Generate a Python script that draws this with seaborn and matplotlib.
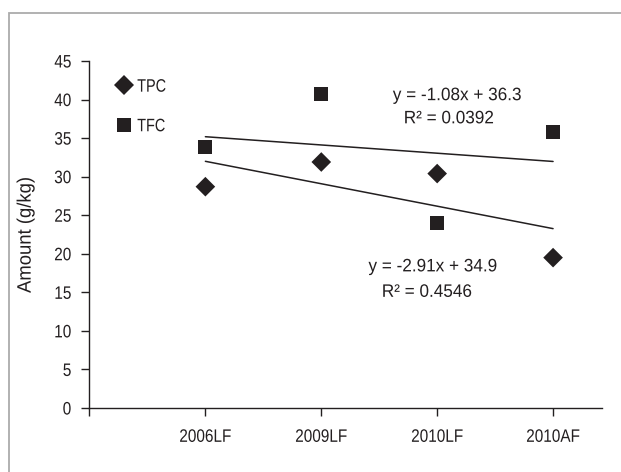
import numpy as np
import pandas as pd
import matplotlib
matplotlib.use("Agg")
import matplotlib.pyplot as plt
from matplotlib.patches import Rectangle
from matplotlib.patheffects import AbstractPathEffect
from matplotlib.transforms import Affine2D
import seaborn as sns

# Sample groups and measured contents (g/kg)
categories = ["2006LF", "2009LF", "2010LF", "2010AF"]
tpc = [28.7, 31.9, 30.4, 19.5]
tfc = [33.8, 40.7, 24.0, 35.8]
series_names = ["TPC", "TFC"]
yticks = [0, 5, 10, 15, 20, 25, 30, 35, 40, 45]

# Trendline equations shown on the chart
tfc_eq = ["y = -1.08x + 36.3", "R² = 0.0392"]
tpc_eq = ["y = -2.91x + 34.9", "R² = 0.4546"]


class Narrow(AbstractPathEffect):
    """Draw text glyphs horizontally condensed, keeping the aligned edge fixed."""

    def __init__(self, sx=0.85, frac=0.5):
        super().__init__()
        self.sx = sx
        self.frac = frac

    def draw_path(self, renderer, gc, tpath, affine, rgbFace=None):
        ext = tpath.get_extents()
        anchor = ext.x0 + self.frac * (ext.x1 - ext.x0)
        squeeze = Affine2D().scale(self.sx, 1.0).translate(anchor * (1 - self.sx), 0)
        renderer.draw_path(gc, tpath, squeeze + affine, rgbFace)


FRAC = {"left": 0.0, "center": 0.5, "right": 1.0}


def narrow(text, sx):
    text.set_path_effects([Narrow(sx, FRAC.get(text.get_ha(), 0.5))])


sns.set_theme(style="ticks")
plt.rcParams["font.family"] = ["Liberation Sans", "DejaVu Sans"]
plt.rcParams["axes.unicode_minus"] = False

ink = "#231f20"
pos = np.arange(1, len(categories) + 1)
df = pd.DataFrame({"pos": np.concatenate([pos, pos]),
                   "value": tpc + tfc,
                   "series": [series_names[0]] * 4 + [series_names[1]] * 4})

fig = plt.figure(figsize=(6.21, 4.72), dpi=100)
ax = fig.add_axes([0.1441, 0.1356, 0.969 - 0.1441, 0.8708 - 0.1356])

# Outer grey frame
fig.patches.append(Rectangle((9.3 / 621, -0.2), 2.0, 1.2 - 12.5 / 472,
                             transform=fig.transFigure, fill=False,
                             edgecolor="#ababab", linewidth=1.3))

# Linear trendlines
for vals in (tfc, tpc):
    sns.regplot(x=pos, y=vals, scatter=False, ci=None, ax=ax,
                line_kws=dict(color=ink, lw=1.1))

sns.scatterplot(data=df, x="pos", y="value", style="series",
                markers={"TPC": "D", "TFC": "s"},
                s=100, color=ink, edgecolor="none",
                linewidth=0, ax=ax, legend=True)

ax.set_xlim(0, 4.42)
ax.set_ylim(0, 45)
ax.set_yticks(yticks)
ax.set_xticks([0] + list(pos))
ax.set_xticklabels([""] + categories)
ax.set_xlabel("")
ax.set_ylabel("Amount (g/kg)", fontsize=14, color=ink, labelpad=12)
ax.tick_params(axis="both", direction="out", length=6, width=1, color=ink,
               labelsize=13, labelcolor=ink, pad=7)
ax.tick_params(axis="x", pad=9)
sns.despine(ax=ax)
for sp in ("left", "bottom"):
    ax.spines[sp].set_color(ink)
    ax.spines[sp].set_linewidth(1)

for t in ax.get_xticklabels() + ax.get_yticklabels():
    narrow(t, 0.85)
narrow(ax.yaxis.label, 0.95)

leg = ax.legend(frameon=False, loc="upper left", bbox_to_anchor=(0.05, 0.949),
                handlelength=1.0, handletextpad=0.22, labelspacing=1.25,
                fontsize=13, borderaxespad=0, borderpad=0)
for t in leg.get_texts():
    t.set_color(ink)
    narrow(t, 0.8)

for (x, y), s in zip([(3.17, 40.5), (3.10, 37.5), (2.96, 18.3), (2.91, 15.0)],
                     tfc_eq + tpc_eq):
    t = ax.text(x, y, s, ha="center", va="center", fontsize=13, color=ink)
    narrow(t, 0.95)

fig.savefig("out.png", dpi=100)
